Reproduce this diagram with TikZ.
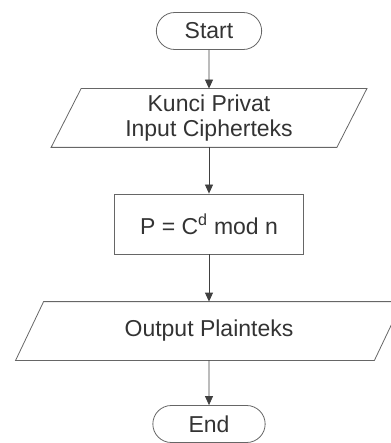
\documentclass[tikz,border=0pt]{standalone}
\usepackage{fontspec}
\setmainfont{Liberation Sans}
\usetikzlibrary{shapes.misc,arrows.meta}
\begin{document}
\begin{tikzpicture}[x=1pt, y=-1pt, font=\fontsize{23}{25}\selectfont, text=black!80, line width=0.8pt,
  term/.style={rounded rectangle, draw=black!60, minimum width=112pt, minimum height=37pt},
  io/.style={minimum height=58pt, align=center},
  proc/.style={draw=black!60, minimum width=189pt, minimum height=60pt},
  flow/.style={draw=black!75, -{Triangle[length=9pt,width=8pt]}}]
\useasboundingbox (0,0) rectangle (390,443);
\node[term] (start) at (209,31) {Start};
\node[io, minimum width=285pt] (input) at (209,118) {Kunci Privat\\Input Cipherteks};
\node[proc] (proc) at (209,224) {P = C\textsuperscript{d} mod n};
\node[io, minimum width=358pt] (output) at (209,331) {Output Plainteks};
\node[term, minimum width=119pt] (end) at (209,424) {End};
\foreach \N/\S in {input/15, output/14}
{\draw[black!60] ([xshift=\S pt]\N.north west) -- ([xshift=\S pt]\N.north east) -- ([xshift=-\S pt]\N.south east) -- ([xshift=-\S pt]\N.south west) -- cycle;}
\foreach \A/\B in {start/input, input/proc, proc/output, output/end}
{\draw[flow] (\A) -- (\B);}
\end{tikzpicture}
\end{document}
